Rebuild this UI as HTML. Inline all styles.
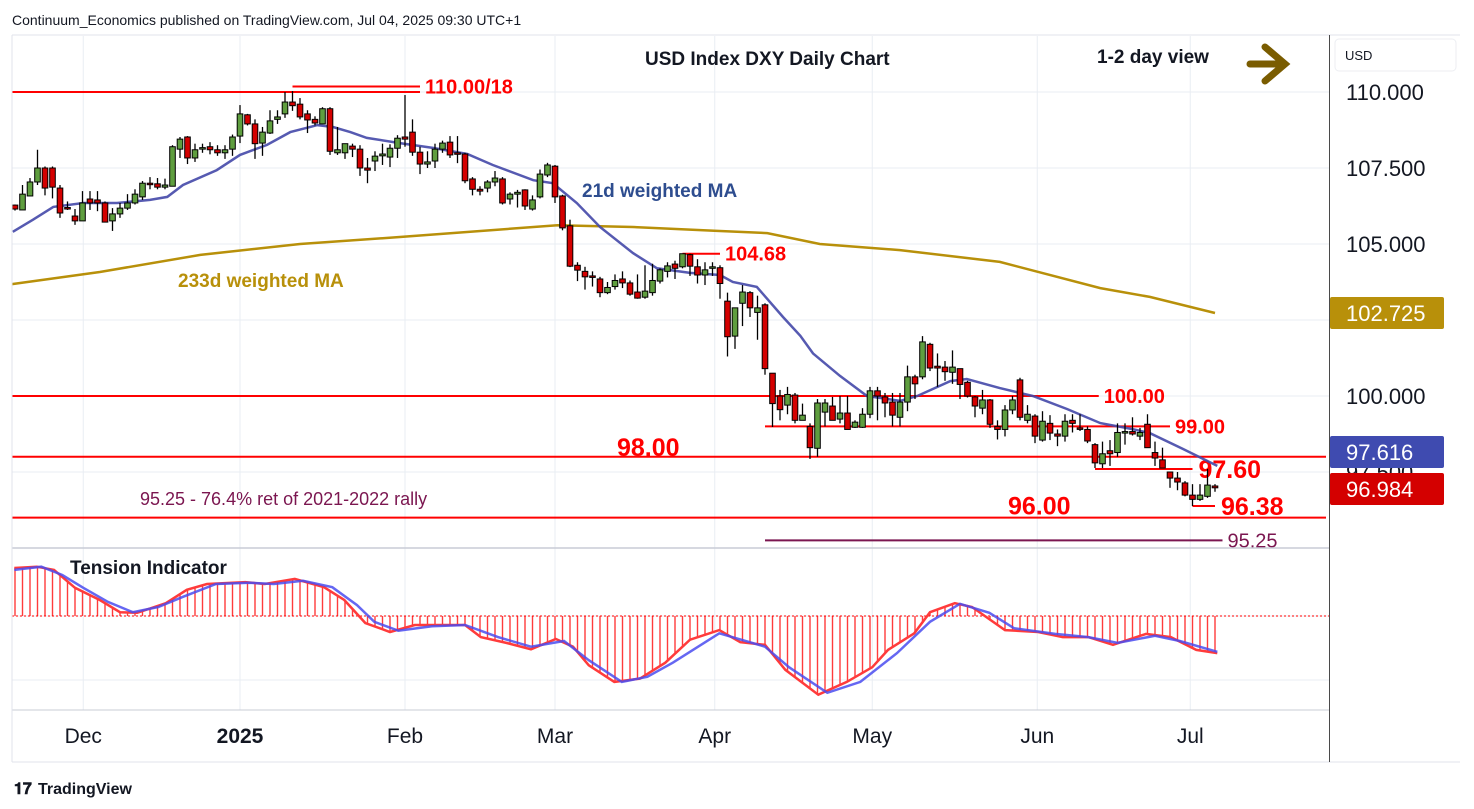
<!DOCTYPE html>
<html><head><meta charset="utf-8"><style>
body{margin:0;background:#fff;font-family:"Liberation Sans",sans-serif}
svg{display:block}
</style></head><body>
<svg id="c" width="1474" height="809" viewBox="0 0 1474 809" xmlns="http://www.w3.org/2000/svg">
<rect x="0" y="0" width="1474" height="809" fill="#fff"/>
<text x="12" y="25" font-size="14" fill="#131722">Continuum_Economics published on TradingView.com, Jul 04, 2025 09:30 UTC+1</text>
<g id="grid"></g>
<g id="levels"></g>
<g id="mas"></g>
<g id="candles"></g>
<g id="ind"></g>
<g id="axes"></g>
<line x1="12" y1="35" x2="1460" y2="35" stroke="#e0e3eb"/>
<line x1="12" y1="548" x2="1329" y2="548" stroke="#c8ccd6" stroke-width="1.5"/>
<line x1="12" y1="710" x2="1329" y2="710" stroke="#c8ccd6"/>
<line x1="12" y1="762" x2="1460" y2="762" stroke="#e0e3eb"/>
<line x1="1329.5" y1="35" x2="1329.5" y2="762" stroke="#4a4a4a"/>
<line x1="12" y1="35" x2="12" y2="762" stroke="#e0e3eb"/>
<text x="645" y="65" font-size="19" font-weight="bold" fill="#131722">USD Index DXY Daily Chart</text>
<text x="1097" y="63" font-size="19" font-weight="bold" fill="#131722">1-2 day view</text>
<g stroke="#7a5c00" stroke-width="7" stroke-linecap="round" fill="none"><line x1="1250" y1="64" x2="1284" y2="64"/><polyline points="1265,47 1285,64 1265,81"/></g>
<rect x="1335" y="39" width="121" height="32" rx="4" fill="#fff" stroke="#eceef2"/>
<text x="1345" y="60" font-size="13" fill="#131722">USD</text>
<text x="582" y="197" font-size="19" font-weight="bold" fill="#2e4d8f">21d weighted MA</text>
<text x="178" y="287" font-size="19" font-weight="bold" fill="#b8900a">233d weighted MA</text>
<text x="140" y="505" font-size="18" fill="#7b1650">95.25 - 76.4% ret of 2021-2022 rally</text>
<text x="70" y="574" font-size="19" font-weight="bold" fill="#131722">Tension Indicator</text>
<g><text x="14" y="794" font-size="16" font-weight="bold" fill="#131722">𝟏𝟕</text><text x="38" y="794" font-size="16" fill="#131722" font-weight="bold">TradingView</text></g>
</svg>
<script>
const NS="http://www.w3.org/2000/svg";
const O=[106.28,106.12,106.58,107.04,107.5,107.5,106.84,106.2,105.92,105.76,106.48,106.45,106.35,105.76,105.99,106.18,106.35,106.55,107.0,106.98,106.87,106.9,108.12,108.52,107.83,108.15,108.2,108.1,108.0,108.12,108.55,109.25,108.95,108.32,108.65,109.1,109.28,109.67,109.6,109.28,109.1,108.95,109.45,108.0,108.0,108.22,108.12,107.5,107.73,107.9,107.86,108.15,108.52,108.68,108.02,107.63,107.73,108.12,108.35,108.0,107.96,107.14,106.8,106.84,107.04,107.14,106.48,106.64,106.78,106.15,106.55,107.27,107.56,106.58,105.6,104.3,104.1,103.95,103.85,103.4,103.6,103.85,103.72,103.42,103.25,103.4,103.78,104.1,104.34,104.25,104.65,104.25,103.98,104.22,104.22,103.12,101.97,103.05,103.4,102.75,103.0,100.75,100.0,99.7,100.03,99.2,99.0,98.28,99.47,99.67,99.24,99.44,98.97,98.97,99.4,100.17,99.97,99.8,99.3,99.8,100.63,100.63,101.7,100.98,100.95,100.78,100.9,100.45,99.97,99.6,99.87,99.0,98.9,99.54,100.53,99.2,99.34,98.55,99.1,98.75,98.68,99.2,98.95,98.9,98.4,97.77,98.2,98.14,98.8,98.83,98.68,99.07,98.14,97.9,97.5,97.3,97.14,96.74,96.6,96.7,97.04];
const H=[106.3,106.94,107.17,108.1,107.55,107.55,106.94,106.4,106.15,106.74,106.74,106.74,106.4,106.18,106.35,106.64,106.8,107.07,107.2,107.17,107.15,108.25,108.52,108.55,108.3,108.3,108.35,108.25,108.25,108.6,109.57,109.28,109.1,108.85,109.4,109.4,110.0,110.03,109.8,109.4,109.2,109.5,109.5,108.85,108.3,108.3,108.25,107.83,108.05,108.3,108.28,108.58,109.9,109.1,108.2,108.05,108.3,108.4,108.55,108.55,108.0,107.2,106.9,107.1,107.4,107.2,106.7,106.78,106.8,106.6,107.45,107.67,107.6,106.62,105.8,104.4,104.25,104.1,103.92,103.75,104.0,104.1,103.8,104.0,104.3,104.35,104.2,104.4,104.45,104.68,104.68,104.5,104.4,104.4,104.3,103.4,102.9,103.65,103.45,103.3,103.05,100.75,100.2,100.3,100.1,99.75,99.1,99.9,99.9,99.97,100.0,100.0,99.2,99.6,100.3,100.3,100.1,100.1,100.1,101.0,100.7,101.97,101.75,101.4,101.15,101.5,100.9,100.5,100.0,100.2,99.9,99.2,99.7,100.0,100.6,99.7,99.4,99.5,99.37,98.9,99.4,99.4,99.4,99.0,98.45,98.5,98.55,99.1,99.1,99.3,98.95,99.4,98.5,98.3,97.5,97.5,97.2,97.1,97.1,97.6,97.1];
const L=[106.1,106.12,106.58,106.94,106.6,106.5,105.86,106.12,105.63,105.76,106.12,106.08,105.72,105.43,105.86,106.12,106.3,106.45,106.8,106.8,106.8,106.9,107.83,107.63,107.7,108.0,107.95,107.9,107.8,107.9,108.32,108.9,107.8,107.9,108.62,108.95,109.15,109.38,109.1,108.65,108.9,108.95,107.93,107.93,107.8,107.86,107.24,107.0,107.4,107.6,107.53,107.83,108.2,107.9,107.3,107.5,107.5,108.0,107.83,107.66,107.0,106.6,106.6,106.7,106.9,106.3,106.3,106.2,106.12,106.1,106.5,107.2,106.35,105.45,104.24,103.78,103.5,103.6,103.25,103.35,103.5,103.55,103.3,103.2,103.2,103.3,103.7,103.9,103.85,104.2,103.95,103.7,103.65,103.95,103.2,101.3,101.55,102.3,102.6,101.85,100.7,98.98,99.2,99.4,99.1,99.2,97.93,98.0,99.0,99.2,99.1,98.9,98.95,98.95,99.27,99.2,99.3,99.0,99.0,99.5,99.9,100.55,100.82,100.3,100.5,100.4,99.9,99.95,99.3,99.4,98.95,98.57,98.67,99.4,99.2,99.1,98.45,98.5,98.55,98.35,98.5,98.8,98.85,98.45,97.63,97.63,97.7,98.0,98.4,98.7,98.55,98.3,97.7,97.63,96.98,96.9,96.7,96.38,96.55,96.65,96.85];
const C=[106.15,106.64,107.04,107.5,106.84,106.87,106.02,106.18,105.76,106.35,106.35,106.35,105.72,105.99,106.18,106.35,106.64,107.0,106.98,106.87,106.94,108.2,108.45,107.83,108.1,108.17,108.1,108.0,108.1,108.52,109.28,108.95,108.3,108.68,109.05,109.18,109.67,109.55,109.18,109.08,108.98,109.45,108.05,108.1,108.3,108.12,107.5,107.43,107.89,107.96,108.15,108.48,108.45,108.02,107.63,107.7,108.12,108.32,107.93,107.98,107.08,106.8,106.74,107.04,107.17,106.35,106.64,106.7,106.25,106.45,107.3,107.6,106.55,105.53,104.27,104.14,103.92,103.92,103.4,103.57,103.8,103.72,103.35,103.22,103.45,103.8,104.15,104.28,104.2,104.68,104.27,103.98,104.15,104.25,103.7,101.95,102.9,103.42,102.9,102.9,100.9,99.75,99.55,100.05,99.2,99.37,98.3,99.77,99.77,99.2,99.44,98.9,99.14,99.4,100.17,100.0,99.77,99.37,99.8,100.63,100.4,101.78,100.92,100.92,100.8,100.95,100.38,100.0,99.67,99.87,99.07,98.9,99.54,99.87,99.3,99.4,98.68,99.17,98.78,98.68,99.17,99.1,98.93,98.52,97.8,98.1,98.1,98.8,98.83,98.75,98.8,98.3,97.96,97.63,97.3,97.17,96.74,96.6,96.74,97.07,96.98];
const ma21Idx=[-0.3,2.4,5.1,9.1,13.6,18,20.3,22.4,26.9,30,33.6,36.7,40.3,42.4,44.7,46.9,51.3,55.7,60.3,63.7,69.1,71.7,74.9,78,82.4,85.6,90,94,95.7,98.9,102.4,104.7,106.4,110,113.6,118,120.3,124.7,126.9,131.3,135.7,140.3,144.7,149,151.3,155.7,160.3];
const ma21Val=[105.4,105.8,106.22,106.35,106.35,106.45,106.55,106.94,107.43,107.93,108.26,108.68,108.91,108.85,108.68,108.49,108.32,108.16,107.96,107.6,107.1,107.0,106.35,105.56,104.7,104.2,104.05,103.98,103.75,103.59,102.6,101.98,101.4,100.66,100.0,99.84,100.0,100.49,100.56,100.26,100.0,99.57,99.11,98.91,98.78,98.26,97.7];
const ma233Idx=[-0.4,11.3,24.7,38,51.3,72.3,82.4,93.6,100.3,107.3,118,131.3,144.7,151.3,160];
const ma233Val=[103.68,104.08,104.64,105.0,105.23,105.62,105.56,105.43,105.36,105.0,104.8,104.41,103.55,103.26,102.73];
const tRedIdx=[-0.1,2.9,5.2,8,11.3,14,16.3,20.1,22.9,25.6,30.7,33.3,37.3,41.2,43.9,46.7,50,53.3,60,62.1,65.5,68.8,72.1,74.4,76.5,79.9,83.3,86.7,90,93.9,96.7,100,102.7,107.1,110.9,114.3,116.4,119.9,122,125.3,127.6,132,136.4,139.7,143.1,146.4,150.8,154.1,157.5,160.3];
const tRedVal=[0.75,0.77,0.72,0.44,0.25,0.06,0.05,0.2,0.41,0.5,0.53,0.5,0.58,0.45,0.25,-0.11,-0.25,-0.14,-0.14,-0.33,-0.42,-0.52,-0.36,-0.48,-0.77,-1.03,-0.98,-0.73,-0.37,-0.22,-0.41,-0.45,-0.84,-1.23,-1.03,-0.8,-0.53,-0.27,0.06,0.2,0.14,-0.22,-0.25,-0.33,-0.33,-0.45,-0.28,-0.33,-0.53,-0.58];
const tBlueIdx=[-0.1,3.5,6.3,9.1,12.4,15.7,19.1,22.4,26.8,31.2,34.5,38.4,42.3,45.6,47.9,51.1,55.6,60,64.4,68.8,73.2,76.5,80.9,84.3,87.7,93.9,100,103.2,108.3,112.7,117.6,122,126,129.9,133.2,138.7,143.1,147,152,155.3,160.3];
const tBlueVal=[0.72,0.77,0.64,0.44,0.22,0.06,0.14,0.3,0.5,0.52,0.5,0.55,0.45,0.17,-0.09,-0.23,-0.16,-0.14,-0.33,-0.48,-0.39,-0.69,-1.03,-0.95,-0.73,-0.27,-0.48,-0.8,-1.2,-1.03,-0.58,-0.09,0.19,0.05,-0.19,-0.28,-0.33,-0.42,-0.31,-0.39,-0.56];
const timeLabels=["Dec","2025","Feb","Mar","Apr","May","Jun","Jul"];
const timeIdx=[9.1,30,52,72,93.3,114.3,136.3,156.7];
const priceTicks=[110,107.5,105,102.5,100,97.5];
const priceTickLabels=["110.000","107.500","105.000","102.500","100.000","97.500"];
const levelVals=[110.0,100.0,99.0,98.0,97.6,96.38,96.0,95.25,104.68,110.18];
const levelTexts=["","100.00","99.00","98.00","97.60","96.38","96.00","95.25","104.68","110.00/18"];
const levelFrom=[-0.5,-0.5,100,-0.5,144,157,-0.5,100,89,37];
const levelTo=[54,144.5,154,175,157,160,175,161,94,54];

const xi=i=>15+i*7.5;
const yp=p=>92+(110-p)*30.4;
const yt=v=>616-v*64;
function mk(tag,attrs,parent){const e=document.createElementNS(NS,tag);for(const k in attrs)e.setAttribute(k,attrs[k]);parent.appendChild(e);return e;}
const G=id=>document.getElementById(id);

// grid
priceTicks.forEach((p,k)=>{const l=mk('line',{x1:12,x2:1329,y1:yp(p),y2:yp(p),stroke:'#e9edf3'},G('grid'));

});
[616,680].forEach(y=>{const l=mk('line',{x1:12,x2:1329,y1:y+64*0,y2:y,stroke:'#e9edf3'},G('grid'));

});
timeIdx.forEach((t,k)=>{const l=mk('line',{x1:xi(t),x2:xi(t),y1:36,y2:710,stroke:'#e9edf3'},G('grid'));


const tx=mk('text',{x:xi(t),y:743,'font-size':21,'text-anchor':'middle',fill:'#131722','font-weight':k==1?'bold':'normal'},G('axes'));tx.textContent=timeLabels[k];

});
priceTicks.forEach((p,k)=>{const tx=mk('text',{x:1346,y:yp(p)+8,'font-size':22,fill:'#131722'},G('axes'));tx.textContent=priceTickLabels[k];

});

// levels
levelVals.forEach((v,k)=>{
 const purple=(k==7);const col=purple?'#7b1650':'#ff0000';
 const x2=Math.min(xi(levelTo[k]),1326);
 const l=mk('line',{x1:Math.max(xi(levelFrom[k]),12),x2:x2,y1:yp(v),y2:yp(v),stroke:col,'stroke-width':2},G('levels'));
 
 
 if(levelTexts[k]){
  let tx,ty=yp(v)+7,fs=20;
  if(k==3){tx=617;ty=yp(v)-1;fs=25;}
  else if(k==6){tx=1008;ty=yp(v)-3;fs=25;}
  else if(k==4||k==5){tx=x2+6;ty=yp(v)+9;fs=25;}
  else tx=x2+5;
  const t=mk('text',{x:tx,y:ty,'font-size':fs,'font-weight':purple?'normal':'bold',fill:col},G('levels'));t.textContent=levelTexts[k];
  
  }
});

// MAs
function path(idx,val,fy){return idx.map((t,k)=>(k?'L':'M')+xi(t).toFixed(1)+' '+fy(val[k]).toFixed(1)).join(' ');}
let p=mk('path',{d:path(ma233Idx,ma233Val,yp),fill:'none',stroke:'#b8900a','stroke-width':2.5},G('mas'));


p=mk('path',{d:path(ma21Idx,ma21Val,yp),fill:'none',stroke:'#4448a8','stroke-width':2.5,'stroke-opacity':0.9},G('mas'));



// candles
C.forEach((c,i)=>{const o=O[i],x=xi(i);const g=mk('g',{},G('candles'));


mk('line',{x1:x,x2:x,y1:yp(H[i]),y2:yp(L[i]),stroke:'#000','stroke-width':1.3},g);
const top=yp(Math.max(o,c)),bh=Math.max(Math.abs(yp(o)-yp(c)),1.5);
mk('rect',{x:x-2.8,y:top,width:5.6,height:bh,fill:c>=o?'#5f9e3f':'#d40000',stroke:'#000','stroke-width':1},g);});

// indicator
function interp(idx,val,t){if(t<=idx[0])return val[0];for(let k=1;k<idx.length;k++){if(t<=idx[k]){const f=(t-idx[k-1])/(idx[k]-idx[k-1]);return val[k-1]+f*(val[k]-val[k-1]);}}return val[val.length-1];}
for(let i=0;i<C.length;i++){const v=interp(tRedIdx,tRedVal,i);const l=mk('line',{x1:xi(i),x2:xi(i),y1:616,y2:yt(v),stroke:'#ff3b3b','stroke-width':1.4},G('ind'));

}
const z=mk('line',{x1:12,x2:1329,y1:616,y2:616,stroke:'#ff0000','stroke-dasharray':'2 2'},G('ind'));


p=mk('path',{d:path(tRedIdx,tRedVal,yt),fill:'none',stroke:'#ff3b3b','stroke-width':2.5},G('ind'));


p=mk('path',{d:path(tBlueIdx,tBlueVal,yt),fill:'none',stroke:'#4a4cf0','stroke-width':2.5,'stroke-opacity':0.85},G('ind'));



// price boxes
const boxVals=[ma233Val[ma233Val.length-1],ma21Val[ma21Val.length-1]-0.084,C[C.length-1]];
const boxText=["102.725","97.616","96.984"];
const boxCol=["#b8900a","#3f4bb0","#d40000"];
boxVals.forEach((v,k)=>{const g=mk('g',{},G('axes'));


let y=yp(v);if(k==1)y=452;if(k==2)y=489;
mk('rect',{x:1330,y:y-16,width:114,height:32,rx:2,fill:boxCol[k]},g);
const t=mk('text',{x:1346,y:y+8,'font-size':22,fill:'#fff'},g);t.textContent=boxText[k];});
</script>
</body></html>
